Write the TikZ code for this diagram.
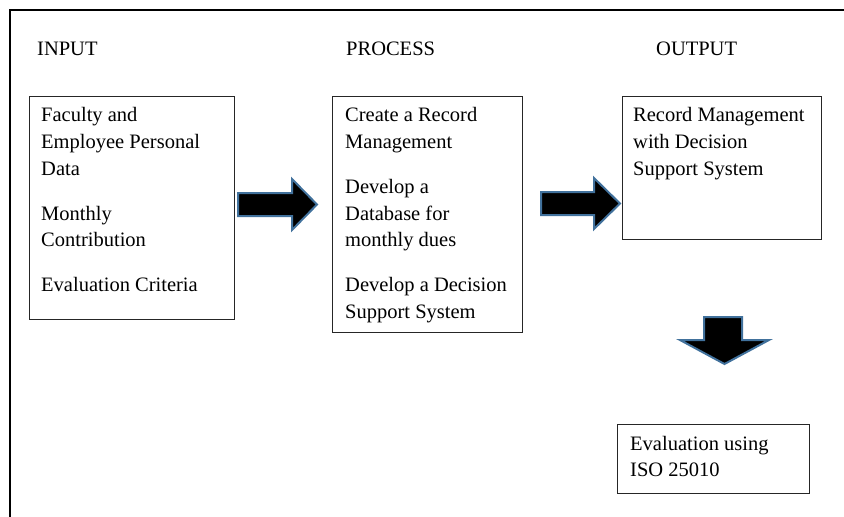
\documentclass[tikz,border=0pt]{standalone}
\usepackage{fontspec}
\setmainfont{Liberation Serif}
\definecolor{arrowblue}{HTML}{41719C}
\begin{document}
\begin{tikzpicture}[x=1pt,y=-1pt,
  frame/.style={line width=2pt},
  box/.style={draw=black!85, line width=1pt, inner sep=0pt, anchor=north west},
  blockarrow/.style={fill=black, draw=arrowblue, line width=2pt, line join=miter},
  txt/.style={anchor=base west, inner sep=0pt, font=\fontsize{20.5}{26.8}\selectfont}
]
\useasboundingbox (0,0) rectangle (844,517);

% page frame (left and top edges)
\draw[frame] (10,517) -- (10,9.5) -- (844,9.5);

% column headings
\node[txt] (hin)  at (37,55)  {INPUT};
\node[txt] (hpro) at (346,55) {PROCESS};
\node[txt] (hout) at (656,55) {OUTPUT};

% boxes
\node[box, minimum width=205, minimum height=223] (inbox)  at (29,96)  {};
\node[box, minimum width=190, minimum height=236] (probox) at (332,96) {};
\node[box, minimum width=199, minimum height=143] (outbox) at (622,96) {};
\node[box, minimum width=192, minimum height=69]  (evbox)  at (617,424) {};

% box contents (first baseline at the given point)
\node[txt] (intext) at (41,121.5) {\parbox[t]{190pt}{\raggedright
  Faculty and\\Employee Personal\\Data\\[18.2pt]Monthly\\Contribution\\[18.2pt]Evaluation Criteria}};
\node[txt] (protext) at (345,121.5) {\parbox[t]{180pt}{\raggedright
  Create a Record\\Management\\[18.2pt]Develop a\\Database for\\monthly dues\\[18.2pt]Develop a Decision\\Support System}};
\node[txt] (outtext) at (633,121.5) {\parbox[t]{185pt}{\raggedright
  Record Management\\with Decision\\Support System}};
\node[txt] (evtext) at (630,450) {\parbox[t]{175pt}{\raggedright
  Evaluation using\\ISO 25010}};

% block arrows between the stages
\draw[blockarrow] (238,193) -- (292,193) -- (292,179) -- (317,204.5)
  -- (292,230) -- (292,216) -- (238,216) -- cycle;
\draw[blockarrow] (541,192) -- (594,192) -- (594,178) -- (620,203.5)
  -- (594,229) -- (594,215) -- (541,215) -- cycle;
\draw[blockarrow] (704,317) -- (742,317) -- (742,340) -- (769,340)
  -- (724.5,364) -- (680,340) -- (704,340) -- cycle;
\end{tikzpicture}
\end{document}
